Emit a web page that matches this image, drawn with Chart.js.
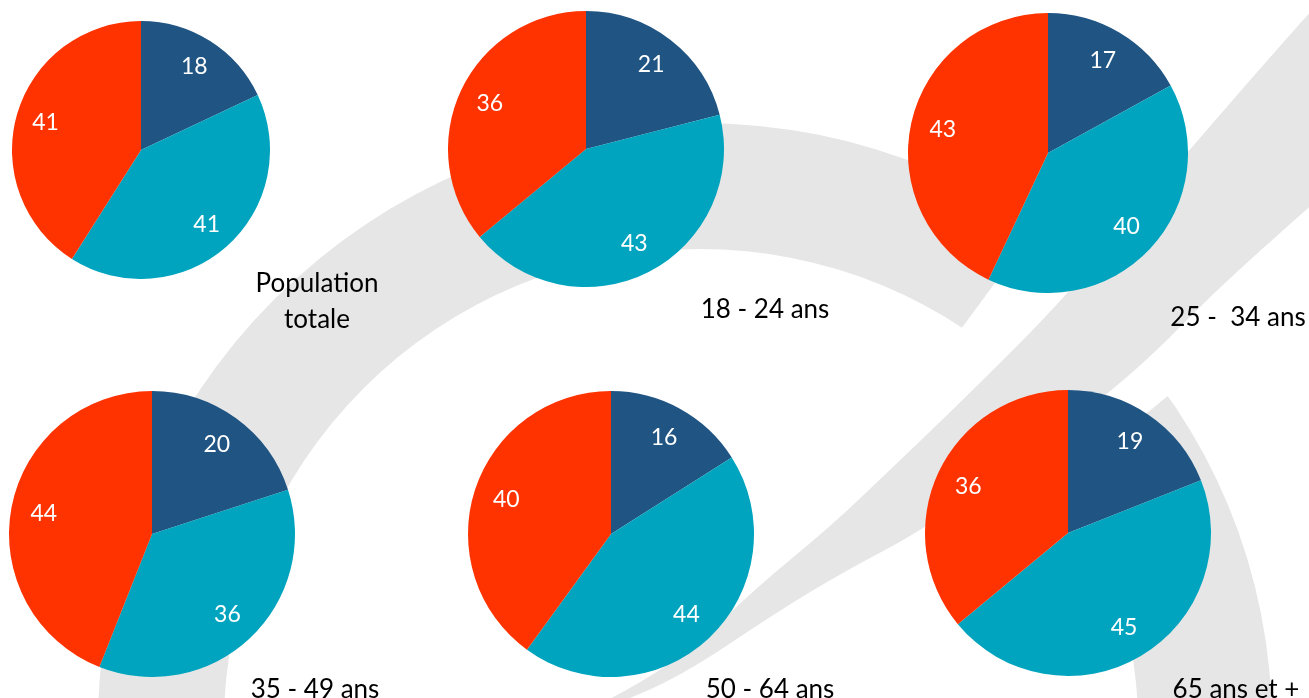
<!DOCTYPE html>
<html lang="fr">
<head>
<meta charset="utf-8">
<title>Répartition par âge</title>
<script src="https://cdn.jsdelivr.net/npm/chart.js@4.4.1/dist/chart.umd.min.js"></script>
<style>
  html, body { margin: 0; padding: 0; background: #fff; }
  body { width: 1309px; height: 698px; position: relative; overflow: hidden; font-family: Lato, "Noto Sans", sans-serif; }
  #bg { position: absolute; left: 0; top: 0; }
  .pie { position: absolute; }
  .caption {
    position: absolute; transform: translate(-50%, -50%);
    font-size: 26px; line-height: 36px; color: #000;
    white-space: pre; text-align: center;
  }
</style>
</head>
<body>
<canvas id="bg" width="1309" height="698"></canvas>
<div id="charts"></div>
<script>
// groupes (un camembert par groupe)
const groups = ['Population\ntotale', '18 - 24 ans', '25 -  34 ans', '35 - 49 ans', '50 - 64 ans', '65 ans et +'];
// séries (pas de légende dans l'original)
const seriesNames = ['Série 1', 'Série 2', 'Série 3'];
const seriesA = [18, 21, 17, 20, 16, 19]; // bleu foncé
const seriesB = [41, 43, 40, 36, 44, 45]; // bleu canard
const seriesC = [41, 36, 43, 44, 40, 36]; // rouge

const colors = ['#1F5483', '#00A4BE', '#FF3300'];

// placement des camemberts et des légendes
const layout = [
  { cx: 141,  cy: 150, r: 129, lx: 317,  ly: 300 },
  { cx: 586,  cy: 149, r: 138, lx: 765,  ly: 308 },
  { cx: 1048, cy: 153, r: 140, lx: 1238, ly: 316 },
  { cx: 152,  cy: 534, r: 143, lx: 315,  ly: 688 },
  { cx: 611,  cy: 534, r: 143, lx: 770,  ly: 688 },
  { cx: 1068, cy: 533, r: 143, lx: 1236, ly: 688 }
];

// trace lissé passant par les milieux des segments
function smoothTo(ctx, pts, first) {
  if (first) ctx.moveTo(pts[0][0], pts[0][1]); else ctx.lineTo(pts[0][0], pts[0][1]);
  for (let i = 1; i < pts.length - 1; i++) {
    const mx = (pts[i][0] + pts[i + 1][0]) / 2;
    const my = (pts[i][1] + pts[i + 1][1]) / 2;
    ctx.quadraticCurveTo(pts[i][0], pts[i][1], mx, my);
  }
  const last = pts[pts.length - 1];
  ctx.lineTo(last[0], last[1]);
}

// filigrane gris en arrière-plan
function drawWatermark() {
  const ctx = document.getElementById('bg').getContext('2d');
  ctx.fillStyle = '#E6E6E6';

  // grand arc
  ctx.save();
  ctx.beginPath();
  ctx.moveTo(215, 1337);
  ctx.lineTo(1695, -663);
  ctx.lineTo(-2000, -2000);
  ctx.lineTo(-2000, 2000);
  ctx.closePath();
  ctx.clip();
  ctx.beginPath();
  ctx.arc(700, 725, 602, 0, Math.PI * 2);
  ctx.arc(700, 725, 476, 0, Math.PI * 2, true);
  ctx.fill();
  ctx.restore();

  // petit arc à droite
  ctx.save();
  ctx.beginPath();
  ctx.moveTo(1147 - 28 * 40, 413 + 23 * 40);
  ctx.lineTo(1147 + 28 * 40, 413 - 23 * 40);
  ctx.lineTo(3000, 3000);
  ctx.closePath();
  ctx.clip();
  ctx.beginPath();
  ctx.arc(700, 725, 572, 0, Math.PI * 2);
  ctx.arc(700, 725, 438, 0, Math.PI * 2, true);
  ctx.fill();
  ctx.restore();

  // bande diagonale
  const upper = [[592, 708], [640, 684], [700, 642], [757, 587], [830, 527], [893, 467], [965, 398], [1067, 296], [1187, 152], [1309, 13], [1322, 0]];
  const lower = [[1340, 0], [1340, 180], [1309, 207], [1213, 293], [1140, 368], [1030, 455], [923, 530], [847, 570], [780, 610], [680, 677], [606, 708]];
  ctx.beginPath();
  smoothTo(ctx, upper, true);
  smoothTo(ctx, lower, false);
  ctx.closePath();
  ctx.fill();
}

// valeurs en blanc dans chaque part
const sliceLabels = {
  id: 'sliceLabels',
  afterDatasetsDraw(chart) {
    const ctx = chart.ctx;
    const meta = chart.getDatasetMeta(0);
    const values = chart.data.datasets[0].data;
    ctx.save();
    ctx.fillStyle = '#fff';
    ctx.font = '23px Lato, "Noto Sans", sans-serif';
    ctx.textAlign = 'center';
    ctx.textBaseline = 'middle';
    meta.data.forEach((arc, i) => {
      const { x, y, startAngle, endAngle, outerRadius } = arc.getProps(['x', 'y', 'startAngle', 'endAngle', 'outerRadius'], true);
      const mid = (startAngle + endAngle) / 2;
      const d = outerRadius * 0.77;
      ctx.fillText(String(values[i]), x + Math.cos(mid) * d, y + Math.sin(mid) * d);
    });
    ctx.restore();
  }
};

function buildCharts() {
  const holder = document.getElementById('charts');
  groups.forEach((g, i) => {
    const L = layout[i];
    const canvas = document.createElement('canvas');
    canvas.className = 'pie';
    canvas.width = L.r * 2;
    canvas.height = L.r * 2;
    canvas.style.left = (L.cx - L.r) + 'px';
    canvas.style.top = (L.cy - L.r) + 'px';
    holder.appendChild(canvas);

    new Chart(canvas.getContext('2d'), {
      type: 'pie',
      data: {
        labels: seriesNames,
        datasets: [{
          data: [seriesA[i], seriesB[i], seriesC[i]],
          backgroundColor: colors,
          borderWidth: 0,
          hoverOffset: 0,
          offset: 0
        }]
      },
      options: {
        responsive: false,
        animation: false,
        events: [],
        layout: { padding: 0 },
        plugins: {
          legend: { display: false },
          tooltip: { enabled: false },
          title: { display: false }
        }
      },
      plugins: [sliceLabels]
    });

    const cap = document.createElement('div');
    cap.className = 'caption';
    cap.textContent = g;
    cap.style.left = L.lx + 'px';
    cap.style.top = L.ly + 'px';
    holder.appendChild(cap);
  });
}

drawWatermark();
buildCharts();
</script>
</body>
</html>
